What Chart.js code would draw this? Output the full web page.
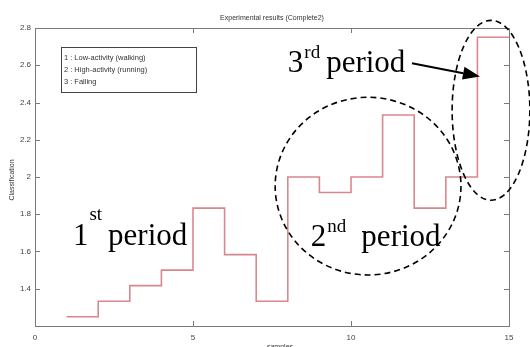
<!DOCTYPE html>
<html>
<head>
<meta charset="utf-8">
<script src="https://cdn.jsdelivr.net/npm/chart.js@4.4.1/dist/chart.umd.min.js"></script>
<style>
  html, body { margin: 0; padding: 0; background: #fff; }
  #wrap { width: 530px; height: 347px; }
</style>
</head>
<body>
<div id="wrap"><canvas id="chart" width="530" height="347"></canvas></div>
<script>
// sample index and classification (stairs, last value repeated)
const samples = [1, 2, 3, 4, 5, 6, 7, 8, 9, 10, 11, 12, 13, 14, 15];
const classification = [1.25, 1.333, 1.417, 1.5, 1.833, 1.583, 1.333, 2.0, 1.917, 2.0, 2.333, 1.833, 2.0, 2.75, 2.75];

const xTicks = [0, 5, 10, 15];
const yTicks = [1.4, 1.6, 1.8, 2, 2.2, 2.4, 2.6, 2.8];

const legendLines = ['1 : Low-activity (walking)', '2 : High-activity (running)', '3 : Falling'];

const axisGray = '#7a7a7a';

// draws the matlab-like box, inward ticks, text and the hand-drawn notes
const decorations = {
  id: 'decorations',
  afterDraw(chart) {
    const ctx = chart.ctx;
    const a = chart.chartArea;
    const xs = chart.scales.x, ys = chart.scales.y;
    const px = v => xs.getPixelForValue(v);
    const py = v => ys.getPixelForValue(v);

    ctx.save();
    // box
    ctx.strokeStyle = axisGray;
    ctx.lineWidth = 1;
    ctx.strokeRect(a.left + 0.5, a.top + 0.5, a.right - a.left, a.bottom - a.top);

    // ticks pointing inward
    ctx.beginPath();
    xTicks.forEach(t => {
      const x = Math.round(px(t)) + 0.5;
      ctx.moveTo(x, a.bottom); ctx.lineTo(x, a.bottom - 5);
      ctx.moveTo(x, a.top); ctx.lineTo(x, a.top + 5);
    });
    yTicks.forEach(t => {
      const y = Math.round(py(t)) + 0.5;
      ctx.moveTo(a.left, y); ctx.lineTo(a.left + 5, y);
      ctx.moveTo(a.right, y); ctx.lineTo(a.right - 5, y);
    });
    ctx.stroke();

    // title and axis labels
    ctx.fillStyle = '#333';
    ctx.font = '7px "Liberation Sans", Arial, sans-serif';
    ctx.textAlign = 'center';
    ctx.textBaseline = 'middle';
    ctx.fillText('Experimental results (Complete2)', (a.left + a.right) / 2, 18);
    ctx.textBaseline = 'top';
    ctx.fillText('samples', (a.left + a.right) / 2 + 8, 344);
    ctx.save();
    ctx.translate(12, (a.top + a.bottom) / 2 + 3);
    ctx.rotate(-Math.PI / 2);
    ctx.textBaseline = 'middle';
    ctx.fillText('Classification', 0, 0);
    ctx.restore();

    // legend-ish text box
    const bx0 = px(0.82), bx1 = px(5.09), by0 = py(2.696), by1 = py(2.455);
    ctx.fillStyle = '#fff';
    ctx.fillRect(bx0, by0, bx1 - bx0, by1 - by0);
    ctx.strokeStyle = '#444';
    ctx.strokeRect(Math.round(bx0) + 0.5, Math.round(by0) + 0.5, Math.round(bx1 - bx0), Math.round(by1 - by0));
    ctx.fillStyle = '#333';
    ctx.font = '7.5px "Liberation Sans", Arial, sans-serif';
    ctx.textAlign = 'left';
    ctx.textBaseline = 'middle';
    legendLines.forEach((t, i) => ctx.fillText(t, bx0 + 3, by0 + 11 + i * 12));

    // dashed ellipses
    ctx.strokeStyle = '#000';
    ctx.lineWidth = 1.6;
    ctx.setLineDash([6, 4]);
    ctx.beginPath();
    ctx.ellipse(px(10.54), py(1.951), px(2.94) - px(0), py(0) - py(0.477), 0, 0, Math.PI * 2);
    ctx.stroke();
    ctx.beginPath();
    ctx.ellipse(px(14.43), py(2.358), px(1.23) - px(0), py(0) - py(0.483), 0, 0, Math.PI * 2);
    ctx.stroke();
    ctx.setLineDash([]);

    // arrow to 3rd period
    const x0 = px(11.93), y0 = py(2.611), x1 = px(14.08), y1 = py(2.54);
    const ang = Math.atan2(y1 - y0, x1 - x0);
    const hl = 17, hw = 6.5;
    const bxh = x1 - hl * Math.cos(ang), byh = y1 - hl * Math.sin(ang);
    ctx.lineWidth = 2;
    ctx.beginPath();
    ctx.moveTo(x0, y0); ctx.lineTo(bxh, byh);
    ctx.stroke();
    ctx.fillStyle = '#000';
    ctx.beginPath();
    ctx.moveTo(x1, y1);
    ctx.lineTo(bxh + hw * Math.sin(ang), byh - hw * Math.cos(ang));
    ctx.lineTo(bxh - hw * Math.sin(ang), byh + hw * Math.cos(ang));
    ctx.closePath();
    ctx.fill();

    // period labels
    const ordinal = (x, y, num, sup, supRise, gap) => {
      ctx.textAlign = 'left';
      ctx.textBaseline = 'alphabetic';
      ctx.fillStyle = '#000';
      ctx.font = '31px "Liberation Serif", "Times New Roman", serif';
      ctx.fillText(num, x, y);
      let cx = x + ctx.measureText(num).width + 1;
      ctx.font = '19px "Liberation Serif", "Times New Roman", serif';
      ctx.fillText(sup, cx, y - supRise);
      cx += ctx.measureText(sup).width + gap;
      ctx.font = '31px "Liberation Serif", "Times New Roman", serif';
      ctx.fillText('period', cx, y);
    };
    ordinal(px(1.2), py(1.634), '1', 'st', 25, 6);
    ordinal(px(8.73), py(1.629), '2', 'nd', 14, 15);
    ordinal(px(8.0), py(2.562), '3', 'rd', 14, 6);

    ctx.restore();
  }
};

new Chart(document.getElementById('chart'), {
  type: 'line',
  data: {
    labels: samples,
    datasets: [{
      data: samples.map((s, i) => ({ x: s, y: classification[i] })),
      stepped: true,
      borderColor: '#d8888d',
      borderWidth: 1.6,
      pointRadius: 0,
      fill: false
    }]
  },
  plugins: [decorations],
  options: {
    responsive: false,
    animation: false,
    layout: { padding: { top: 28, right: 21, left: 0, bottom: 0 } },
    plugins: {
      legend: { display: false },
      tooltip: { enabled: false },
      title: { display: false }
    },
    scales: {
      x: {
        type: 'linear',
        min: 0,
        max: 15,
        grid: { display: false, drawTicks: false },
        border: { display: false },
        afterFit: s => { s.height = 21; },
        afterBuildTicks: s => { s.ticks = xTicks.map(v => ({ value: v })); },
        ticks: {
          padding: 7,
          color: '#444',
          font: { size: 8, family: '"Liberation Sans", Arial, sans-serif' }
        }
      },
      y: {
        min: 1.2,
        max: 2.8,
        grid: { display: false, drawTicks: false },
        border: { display: false },
        afterFit: s => { s.width = 35; },
        afterBuildTicks: s => { s.ticks = yTicks.map(v => ({ value: v })); },
        ticks: {
          padding: 4,
          color: '#444',
          font: { size: 8, family: '"Liberation Sans", Arial, sans-serif' },
          callback: v => String(+v.toFixed(1))
        }
      }
    }
  }
});
</script>
</body>
</html>
